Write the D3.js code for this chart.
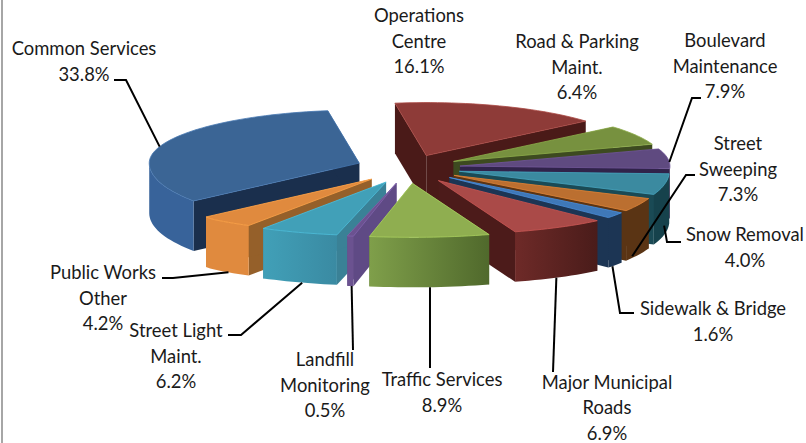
<!DOCTYPE html>
<html>
<head>
<meta charset="utf-8">
<script src="https://cdn.jsdelivr.net/npm/d3@7"></script>
<style>
  html, body { margin: 0; padding: 0; background: #fff; }
  svg { display: block; }
  text { font-family: Lato, "Open Sans", sans-serif; font-size: 18.4px; fill: #1a1a1a; }
</style>
</head>
<body>
<div class="chart"></div>
<script>
const categories = [
  "Operations Centre", "Road & Parking Maint.", "Boulevard Maintenance", "Street Sweeping",
  "Snow Removal", "Sidewalk & Bridge", "Major Municipal Roads", "Traffic Services",
  "Landfill Monitoring", "Street Light Maint.", "Public Works Other", "Common Services"
];
const shares = [16.1, 6.4, 7.9, 7.3, 4.0, 1.6, 6.9, 8.9, 0.5, 6.2, 4.2, 33.8];

const topColors = ["#8e3b38", "#77913f", "#5f4a80", "#3b8aa0", "#bb6f30", "#3f78b8",
  "#aa4a48", "#8fae50", "#6b5290", "#41a0b8", "#e08a3e", "#3b6595"];
const cutColors = ["#4a1a18", "#3d4a20", "#30234a", "#1a4a55", "#5a3414", "#1c3554",
  "#4c1b1a", "#5a7530", "#5f4a85", "#3a8196", "#95602a", "#1a2f4d"];
const wallLeft = ["#6e2a28", "#5a7030", "#3b2a55", "#16424c", "#5a3414", "#1c3554",
  "#6e2a28", "#7f9f4a", "#6b5290", "#41a0b8", "#e08a3e", "#38639a"];
const wallRight = ["#4a1a18", "#3d4a20", "#3b2a55", "#16424c", "#5a3414", "#1c3554",
  "#4a1c1a", "#50692c", "#6b5290", "#3a8aa2", "#e08a3e", "#38639a"];

// label placement: centre x, first baseline, text lines
const labelLines = [
  ["Operations", "Centre", "16.1%"], ["Road & Parking", "Maint.", "6.4%"], ["Boulevard", "Maintenance", "7.9%"],
  ["Street", "Sweeping", "7.3%"], ["Snow Removal", "4.0%"], ["Sidewalk & Bridge", "1.6%"],
  ["Major Municipal", "Roads", "6.9%"], ["Traffic Services", "8.9%"], ["Landfill", "Monitoring", "0.5%"],
  ["Street Light", "Maint.", "6.2%"], ["Public Works", "Other", "4.2%"], ["Common Services", "33.8%"]
];
const labelX = [419, 577, 725, 738, 745, 713, 607, 442, 325, 176, 103, 84];
const labelY = [22, 48, 47, 150, 241, 315, 388.5, 386, 366, 337, 279, 55];

// leaders: where on the slice edge they attach, then the elbow points out to the label
const leaderFrac = [null, null, 0.68, 1.63, -1.7, 0.7, 0.54, 0.5, 0.3, 0.45, 0.44, 0.47];
const leaderDrop = [0, 0, 0, 1, 1, 1, 1, 1, 1, 1, 1, 0];
const leaderElbows = [
  null, null, [[692, 98], [701, 98]], [[686, 175], [695, 175]], [[667, 242], [681, 242]],
  [[620, 313], [634, 313]], [[553, 372]], [[430, 368]], [[353, 350]],
  [[241, 335], [228, 335]], [[173, 278], [162, 278]], [[126, 80], [114, 80]]
];

const width = 806, height = 443;
const center = { x: 408, y: 168 }, radiusX = 210, depth = 50, explode = 0.25;
const deg = Math.PI / 180;

const svg = d3.select(".chart").append("svg")
  .attr("width", width).attr("height", height);

const defs = svg.append("defs");

svg.append("line")
  .attr("x1", 2).attr("x2", 2).attr("y1", 0).attr("y2", height)
  .attr("stroke", "#a6a6a6").attr("stroke-width", 2);

const x = d3.scaleLinear().domain([-1, 1]).range([center.x - radiusX, center.x + radiusX]);
// the ellipse is shallower at the back and flattened at the very front, perspective
const y = d3.scaleLinear()
  .domain([-1, -0.9, -0.65, 0, 1])
  .range([center.y + 54, center.y + 50, center.y + 40, center.y, center.y - 53]);

// the source's 3D view pushes the slices sideways at some angles: [centre, width, shift] in degrees
const viewBumps = [[60, 25, 3], [135, 42, -11], [210, 30, -4]];
const warp = t => t + deg * d3.sum(viewBumps, b => b[2] * Math.exp(-Math.pow((t / deg - b[0]) / b[1], 2)));

const pie = d3.pie().sort(null).value(d => d).startAngle(-8.6 * deg).endAngle(351.4 * deg);
const line = d3.line().x(d => d[0]).y(d => d[1]);

const slices = pie(shares).map((p, i) => {
  const a0 = warp(p.startAngle), a1 = warp(p.endAngle), mid = (a0 + a1) / 2;
  const dx = x(explode * Math.sin(mid)) - x(0), dy = y(explode * Math.cos(mid)) - y(0);
  const apex = [x(0) + dx, y(0) + dy];
  const rim = d3.range(0, 1.0001, 1 / Math.max(4, Math.ceil((a1 - a0) / (2 * deg))))
    .map(f => {
      const a = a0 + (a1 - a0) * f;
      return [x(Math.sin(a)) + dx, y(Math.cos(a)) + dy, a];
    });
  return { i, mid, apex, rim, a0, a1, dx, dy };
});

const down = p => [p[0], p[1] + depth];
const layer = svg.append("g");

// back to front, so nearer slices cover the ones behind
slices.slice().sort((a, b) => d3.descending(Math.cos(a.mid), Math.cos(b.mid))).forEach(s => {
  const g = layer.append("g").attr("class", "slice");
  const first = s.rim[0], last = s.rim[s.rim.length - 1];

  [first, last].forEach(p => {
    g.append("path")
      .attr("d", line([s.apex, p, down(p), down(s.apex)]) + "Z")
      .attr("fill", cutColors[s.i]);
  });

  const front = s.rim.filter(p => Math.cos(p[2]) < 0.02);
  if (front.length > 1) {
    const grad = defs.append("linearGradient")
      .attr("id", `wall${s.i}`)
      .attr("gradientUnits", "userSpaceOnUse")
      .attr("x1", d3.min(front, p => p[0])).attr("x2", d3.max(front, p => p[0]))
      .attr("y1", 0).attr("y2", 0);
    grad.append("stop").attr("offset", "0%").attr("stop-color", wallLeft[s.i]);
    grad.append("stop").attr("offset", "100%").attr("stop-color", wallRight[s.i]);
    g.append("path")
      .attr("d", line(front.concat(front.slice().reverse().map(down))) + "Z")
      .attr("fill", `url(#wall${s.i})`);
  }

  g.append("path")
    .attr("d", line([s.apex].concat(s.rim)) + "Z")
    .attr("fill", topColors[s.i])
    .attr("stroke", d3.color(topColors[s.i]).brighter(0.5))
    .attr("stroke-width", 0.8)
    .attr("stroke-linejoin", "round");
});

// leaders
slices.forEach(s => {
  if (!leaderElbows[s.i]) return;
  const a = s.a0 + (s.a1 - s.a0) * leaderFrac[s.i];
  const start = [x(Math.sin(a)) + s.dx, y(Math.cos(a)) + s.dy + leaderDrop[s.i] * depth];
  svg.append("path")
    .attr("d", line([start].concat(leaderElbows[s.i])))
    .attr("fill", "none")
    .attr("stroke", "#000")
    .attr("stroke-width", 2);
});

// labels
categories.forEach((name, i) => {
  const label = svg.append("text")
    .attr("class", "label")
    .attr("text-anchor", "middle")
    .attr("x", labelX[i])
    .attr("y", labelY[i]);
  label.selectAll("tspan")
    .data(labelLines[i])
    .join("tspan")
    .attr("x", labelX[i])
    .attr("dy", (d, j) => j === 0 ? 0 : 25.5)
    .text(d => d);
});
</script>
</body>
</html>
